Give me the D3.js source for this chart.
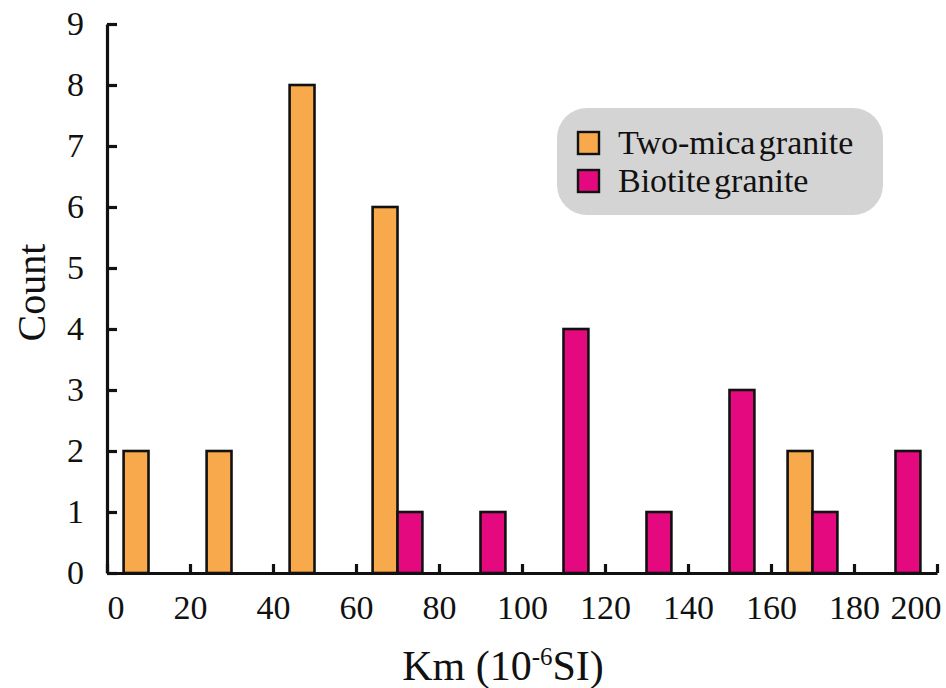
<!DOCTYPE html>
<html>
<head>
<meta charset="utf-8">
<script src="https://cdn.jsdelivr.net/npm/d3@7"></script>
<style>
  html, body { margin: 0; padding: 0; background: #fff; }
  text { font-family: "Liberation Serif", "Times New Roman", serif; fill: #111; }
</style>
</head>
<body>
<svg id="chart" width="946" height="688"></svg>
<script>
// Histogram bins of Km (10^-6 SI), 20 units wide
const binStarts = [0, 20, 40, 60, 80, 100, 120, 140, 160, 180];
const seriesNames = ["Two-mica granite", "Biotite granite"];
const twoMicaCounts = [2, 2, 8, 6, 0, 0, 0, 0, 2, 0];
const biotiteCounts = [0, 0, 0, 1, 1, 4, 1, 3, 1, 2];
const seriesColors = ["#F7A94B", "#E5097F"];
const xTicks = [0, 20, 40, 60, 80, 100, 120, 140, 160, 180, 200];
const yTicks = [0, 1, 2, 3, 4, 5, 6, 7, 8, 9];

const svg = d3.select("#chart");
const margin = { left: 107, right: 9, top: 24, bottom: 115 };
const W = 946, H = 688;

const x = d3.scaleLinear().domain([0, 200]).range([margin.left, W - margin.right]);
const y = d3.scaleLinear().domain([0, 9]).range([H - margin.bottom, margin.top]);

// band per bin, sub-band per series (each bar is 6 units of a 20-unit bin)
const bin = d3.scaleBand().domain(binStarts).range([x(0), x(200)]).padding(0);
const sub = d3.scaleBand().domain(seriesNames).range([0, bin.bandwidth()])
  .paddingInner(0).paddingOuter(2 / 3);

const rows = [];
binStarts.forEach((b, i) => {
  rows.push({ bin: b, series: seriesNames[0], value: twoMicaCounts[i], color: seriesColors[0] });
  rows.push({ bin: b, series: seriesNames[1], value: biotiteCounts[i], color: seriesColors[1] });
});

svg.append("g").selectAll("rect")
  .data(rows.filter(d => d.value > 0))
  .join("rect")
  .attr("x", d => bin(d.bin) + sub(d.series))
  .attr("width", sub.bandwidth())
  .attr("y", d => y(d.value))
  .attr("height", d => y(0) - y(d.value))
  .attr("fill", d => d.color)
  .attr("stroke", "#111")
  .attr("stroke-width", 2.6);

// y axis with inward ticks
const gy = svg.append("g")
  .attr("transform", `translate(${x(0)},0)`)
  .call(d3.axisLeft(y).tickValues(yTicks).tickFormat(d3.format("d"))
    .tickSize(-10).tickSizeOuter(0).tickPadding(23));
gy.select(".domain").attr("stroke", "#111").attr("stroke-width", 3.2);
gy.selectAll(".tick line").attr("stroke", "#111").attr("stroke-width", 3.2);
gy.selectAll(".tick text").attr("font-size", 34).attr("font-family", "Liberation Serif, serif").attr("fill", "#111");

// x axis with inward ticks
const gx = svg.append("g")
  .attr("transform", `translate(0,${y(0)})`)
  .call(d3.axisBottom(x).tickValues(xTicks).tickFormat(d3.format("d"))
    .tickSize(-9).tickSizeOuter(0).tickPadding(22));
gx.select(".domain").attr("stroke", "#111").attr("stroke-width", 3.2);
gx.selectAll(".tick line").attr("stroke", "#111").attr("stroke-width", 3.2);
gx.selectAll(".tick text")
  .attr("font-size", 34).attr("font-family", "Liberation Serif, serif").attr("fill", "#111")
  .attr("dy", "0.71em")
  .attr("text-anchor", (d, i, n) => i === 0 ? "start" : (i === n.length - 1 ? "end" : "middle"))
  .attr("dx", (d, i, n) => i === 0 ? 0 : (i === n.length - 1 ? 4 : 0));

// axis titles
svg.append("text")
  .attr("x", (x(0) + x(200)) / 2 - 19)
  .attr("y", 680)
  .attr("text-anchor", "middle")
  .attr("font-size", 42)
  .html('Km (10<tspan dy="-15" font-size="25">-6</tspan><tspan dy="15">SI)</tspan>');

svg.append("text")
  .attr("transform", `translate(45,${(y(0) + y(9)) / 2 - 6}) rotate(-90)`)
  .attr("text-anchor", "middle")
  .attr("font-size", 40)
  .text("Count");

// legend
const legend = svg.append("g").attr("transform", "translate(557,108)");
legend.append("rect")
  .attr("width", 326).attr("height", 107).attr("rx", 30).attr("ry", 30)
  .attr("fill", "#D4D4D4");
seriesNames.forEach((name, i) => {
  const row = legend.append("g").attr("transform", `translate(0,${i * 38})`);
  row.append("rect")
    .attr("x", 21).attr("y", 24).attr("width", 21).attr("height", 22)
    .attr("fill", seriesColors[i]).attr("stroke", "#111").attr("stroke-width", 2.4);
  row.append("text")
    .attr("x", 61).attr("y", 46)
    .attr("font-size", 34)
    .attr("word-spacing", "-5px")
    .text(name);
});
</script>
</body>
</html>
